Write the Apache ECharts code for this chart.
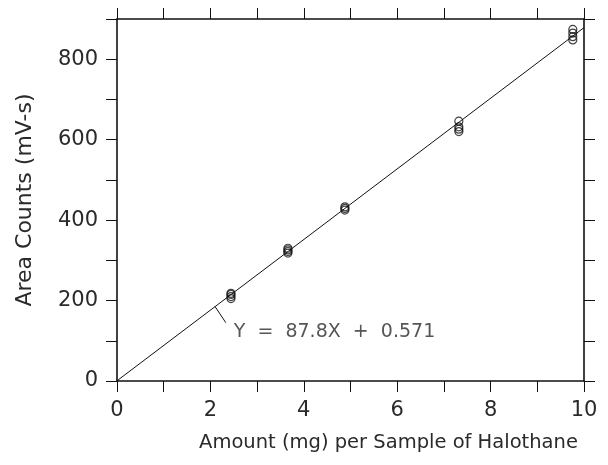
<!DOCTYPE html>
<html>
<head>
<meta charset="utf-8">
<script src="https://cdn.jsdelivr.net/npm/echarts@6/dist/echarts.min.js"></script>
<style>
  html, body { margin: 0; padding: 0; background: #fff; }
  #chart { width: 608px; height: 465px; }
</style>
</head>
<body>
<div id="chart"></div>
<script>
// measured points (amount mg, area counts)
var amounts = [2.44, 2.44, 2.44, 2.44, 3.66, 3.66, 3.66, 3.66, 4.88, 4.88, 4.88, 7.32, 7.32, 7.32, 7.32, 9.76, 9.76, 9.76, 9.76];
var areas = [205, 210, 215, 218, 318, 322, 326, 330, 425, 429, 433, 620, 626, 632, 646, 848, 856, 865, 874];
// regression line
var slope = 87.8;
var intercept = 0.571;
var fitX = [0, 10];
var eqText = 'Y  =  87.8X  +  0.571';
// leader from the line to the equation
var leaderX = [2.1, 2.33];
var leaderY = [185, 145];
var eqPos = [2.5, 122];

var chart = echarts.init(document.getElementById('chart'));

var font = 'DejaVu Sans, sans-serif';
var ink = '#111';
var txt = '#2a2a2a';

function frameAxis(extra) {
  return Object.assign({
    axisLine: { show: true, onZero: false, lineStyle: { color: ink, width: 1.6 } },
    axisTick: { show: true, inside: false, length: 11, lineStyle: { color: ink, width: 1 } },
    splitLine: { show: false }
  }, extra);
}

chart.setOption({
  animation: false,
  grid: { left: 117, right: 24, top: 19, bottom: 84 },
  xAxis: [
    frameAxis({
      type: 'value', min: 0, max: 10, interval: 1, position: 'bottom',
      name: 'Amount (mg) per Sample of Halothane',
      nameLocation: 'middle', nameGap: 52,
      nameTextStyle: { fontFamily: font, fontSize: 19.5, color: txt, padding: [0, 0, 0, 76] },
      axisLabel: {
        fontFamily: font, fontSize: 21, color: txt, margin: 19,
        formatter: function (v) { return v % 2 === 0 ? String(v) : ''; }
      }
    }),
    frameAxis({
      type: 'value', min: 0, max: 10, interval: 1, position: 'top',
      axisLabel: { show: false }
    })
  ],
  yAxis: [
    frameAxis({
      type: 'value', min: 0, max: 900, interval: 100, position: 'left',
      name: 'Area Counts (mV-s)',
      nameLocation: 'middle', nameGap: 81,
      nameTextStyle: { fontFamily: font, fontSize: 22, color: txt },
      axisLabel: {
        fontFamily: font, fontSize: 21, color: txt, margin: 19,
        formatter: function (v) { return v % 200 === 0 ? String(v) : ''; }
      }
    }),
    frameAxis({
      type: 'value', min: 0, max: 900, interval: 100, position: 'right',
      axisLabel: { show: false }
    })
  ],
  series: [
    {
      type: 'line',
      data: fitX.map(function (x) { return [x, slope * x + intercept]; }),
      showSymbol: false, symbol: 'none',
      lineStyle: { color: ink, width: 1 },
      z: 2
    },
    {
      type: 'line',
      data: leaderX.map(function (x, i) { return [x, leaderY[i]]; }),
      showSymbol: false, symbol: 'none',
      lineStyle: { color: ink, width: 1 },
      z: 2
    },
    {
      type: 'scatter',
      data: amounts.map(function (x, i) { return [x, areas[i]]; }),
      symbol: 'circle', symbolSize: 8,
      itemStyle: { color: 'rgba(255,255,255,0)', borderColor: ink, borderWidth: 1.2 },
      z: 3
    },
    {
      type: 'scatter',
      data: [eqPos],
      symbolSize: 0,
      label: {
        show: true, position: 'right', distance: 0,
        formatter: eqText,
        fontFamily: font, fontSize: 19, color: txt
      },
      z: 4
    }
  ]
});
</script>
</body>
</html>
